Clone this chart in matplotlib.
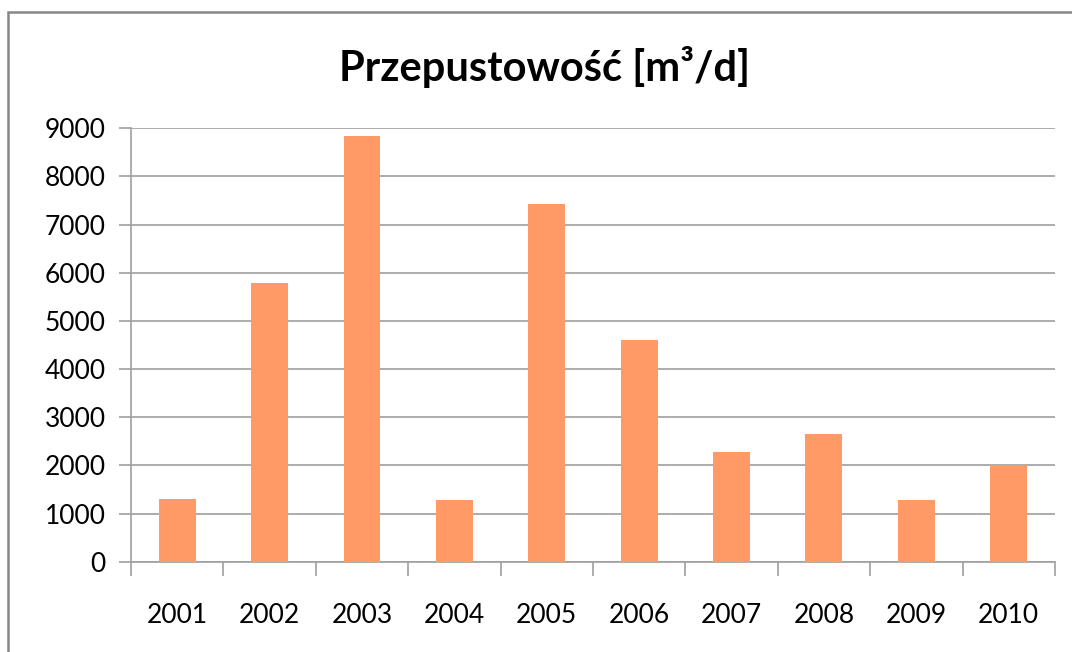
import matplotlib
matplotlib.use("Agg")
import matplotlib.pyplot as plt
from matplotlib.patches import Rectangle
import numpy as np

years = ["2001", "2002", "2003", "2004", "2005", "2006", "2007", "2008", "2009", "2010"]
values = [1300, 5780, 8830, 1275, 7430, 4600, 2285, 2660, 1275, 2000]
yticks = [0, 1000, 2000, 3000, 4000, 5000, 6000, 7000, 8000, 9000]

plt.rcParams["font.family"] = ["Lato", "DejaVu Sans"]

fig = plt.figure(figsize=(10.72, 6.52), dpi=100)
ax = fig.add_axes([0.1222, 0.1385, 0.8619, 0.6647])

# chart frame (cut off at right and bottom, like the screenshot)
fig.patches.append(Rectangle((8 / 1072, -0.05), 1.1, 1 - 12 / 652 + 0.05,
                             transform=fig.transFigure, fill=False,
                             edgecolor="#868686", linewidth=1.8, zorder=0))

x = np.arange(len(years))
ax.bar(x, values, width=0.4, color="#FF9966", zorder=3)

ax.set_xlim(-0.5, len(years) - 0.5)
ax.set_ylim(0, 9000)
ax.set_yticks(yticks)
ax.set_yticklabels([str(v) for v in yticks], fontsize=19)
ax.set_xticks(x)
ax.set_xticklabels(years, fontsize=19)
ax.set_xticks(np.arange(len(years) + 1) - 0.5, minor=True)

ax.grid(axis="y", color="#a6a6a6", linewidth=1.3, zorder=0)
ax.tick_params(axis="y", length=9, width=1.2, color="#a0a0a0", pad=9)
ax.tick_params(axis="x", which="major", length=0, pad=30)
ax.tick_params(axis="x", which="minor", length=10, width=1.2, color="#a0a0a0")

for s in ["top", "right"]:
    ax.spines[s].set_visible(False)
for s in ["left", "bottom"]:
    ax.spines[s].set_color("#a0a0a0")
    ax.spines[s].set_linewidth(1.2)

fig.text(0.508, 0.898, "Przepustowość [m³/d]", ha="center", va="center",
         fontsize=30, fontweight="bold")

fig.savefig("out.png", dpi=100)
